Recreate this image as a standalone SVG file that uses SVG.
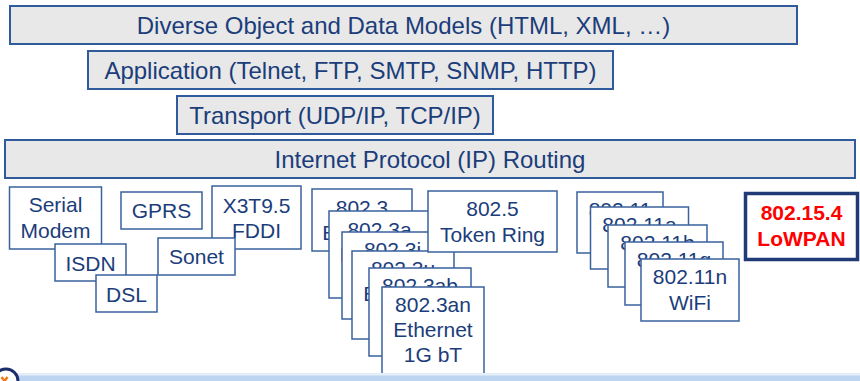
<svg xmlns="http://www.w3.org/2000/svg" width="860" height="381" viewBox="0 0 860 381">
  <style>
    text { font-family: "Liberation Sans", Arial, sans-serif; fill: #1b3d7a; text-anchor: middle; }
    .layer rect { fill: #e8e8e8; stroke: #2f5a9c; stroke-width: 2; }
    .layer text { font-size: 24px; }
    .box rect { fill: #ffffff; stroke: #3a629d; stroke-width: 1.5; }
    .box text { font-size: 21px; }
    .hl rect { fill: #ffffff; stroke: #1f3a76; stroke-width: 3.5; }
    .hl text { font-size: 21px; font-weight: bold; fill: #ff0000; }
  </style>

  <!-- protocol layers -->
  <g id="models" class="layer">
    <rect x="10" y="6" width="787" height="38"/>
    <text x="403.5" y="34">Diverse Object and Data Models (HTML, XML, …)</text>
  </g>
  <g id="application" class="layer">
    <rect x="88" y="51" width="525" height="38"/>
    <text x="350.5" y="79">Application (Telnet, FTP, SMTP, SNMP, HTTP)</text>
  </g>
  <g id="transport" class="layer">
    <rect x="177" y="96" width="316" height="38"/>
    <text x="335" y="124">Transport (UDP/IP, TCP/IP)</text>
  </g>
  <g id="ip-routing" class="layer">
    <rect x="5" y="140" width="850" height="38"/>
    <text x="430" y="168">Internet Protocol (IP) Routing</text>
  </g>

  <!-- wide-area links -->
  <g id="serial-modem" class="box">
    <rect x="9.5" y="187" width="92" height="62"/>
    <text x="55.5" y="212">Serial</text>
    <text x="55.5" y="238">Modem</text>
  </g>
  <g id="isdn" class="box">
    <rect x="55" y="244" width="71" height="37"/>
    <text x="90.5" y="270.5">ISDN</text>
  </g>
  <g id="dsl" class="box">
    <rect x="96" y="275" width="61" height="37"/>
    <text x="126.5" y="301.5">DSL</text>
  </g>
  <g id="gprs" class="box">
    <rect x="121" y="192" width="81" height="37"/>
    <text x="161.5" y="218">GPRS</text>
  </g>
  <g id="fddi" class="box">
    <rect x="212" y="186" width="89" height="63"/>
    <text x="256.5" y="213">X3T9.5</text>
    <text x="256.5" y="238">FDDI</text>
  </g>
  <g id="sonet" class="box">
    <rect x="158" y="238" width="77" height="37"/>
    <text x="196.5" y="264">Sonet</text>
  </g>

  <!-- Ethernet family, stacked back to front -->
  <g id="eth-802-3" class="box">
    <rect x="312" y="189" width="100" height="62"/>
    <text x="362" y="215">802.3</text>
    <text x="362" y="240">Ethernet</text>
  </g>
  <g id="eth-802-3a" class="box">
    <rect x="329" y="211" width="101" height="87"/>
    <text x="379.5" y="237">802.3a</text>
    <text x="379.5" y="262">Ethernet</text>
  </g>
  <g id="eth-802-3i" class="box">
    <rect x="342" y="232" width="101" height="87"/>
    <text x="392.5" y="257">802.3i</text>
    <text x="392.5" y="282">Ethernet</text>
  </g>
  <g id="eth-802-3u" class="box">
    <rect x="352" y="251" width="102" height="88"/>
    <text x="403" y="276">802.3u</text>
    <text x="403" y="301">Ethernet</text>
  </g>
  <g id="eth-802-3ab" class="box">
    <rect x="369" y="268" width="102" height="88"/>
    <text x="420" y="293">802.3ab</text>
    <text x="420" y="318">Ethernet</text>
  </g>
  <g id="eth-802-3an" class="box">
    <rect x="382" y="287" width="102" height="87"/>
    <text x="433" y="312">802.3an</text>
    <text x="433" y="337">Ethernet</text>
    <text x="433" y="362">1G bT</text>
  </g>

  <g id="token-ring" class="box">
    <rect x="428" y="191" width="129" height="61"/>
    <text x="492.5" y="216">802.5</text>
    <text x="492.5" y="242">Token Ring</text>
  </g>

  <!-- WiFi family, stacked back to front -->
  <g id="wifi-802-11" class="box">
    <rect x="577" y="192" width="86" height="61"/>
    <text x="620" y="217">802.11</text>
  </g>
  <g id="wifi-802-11a" class="box">
    <rect x="590.5" y="207" width="98" height="62"/>
    <text x="639.5" y="232">802.11a</text>
  </g>
  <g id="wifi-802-11b" class="box">
    <rect x="608" y="225" width="99" height="62"/>
    <text x="657.5" y="250">802.11b</text>
  </g>
  <g id="wifi-802-11g" class="box">
    <rect x="625" y="242" width="98" height="63"/>
    <text x="674" y="267">802.11g</text>
  </g>
  <g id="wifi-802-11n" class="box">
    <rect x="641" y="259" width="98" height="62"/>
    <text x="690" y="284">802.11n</text>
    <text x="690" y="310">WiFi</text>
  </g>

  <!-- highlighted low-power link -->
  <g id="lowpan" class="hl">
    <rect x="745.5" y="193.5" width="112" height="66"/>
    <text x="801.5" y="220">802.15.4</text>
    <text x="801.5" y="246">LoWPAN</text>
  </g>

  <!-- footer band with logo edge -->
  <g id="footer">
    <rect x="0" y="373" width="860" height="3" fill="#e6eff9"/>
    <rect x="0" y="375.5" width="860" height="5.5" fill="#bed5f1"/>
    <circle cx="6" cy="381" r="12" fill="#ffffff" stroke="#1c2d6b" stroke-width="3"/>
    <path d="M1.5 377 L4.5 381 L7.5 377" fill="none" stroke="#f07a1a" stroke-width="2.5"/>
  </g>
</svg>
